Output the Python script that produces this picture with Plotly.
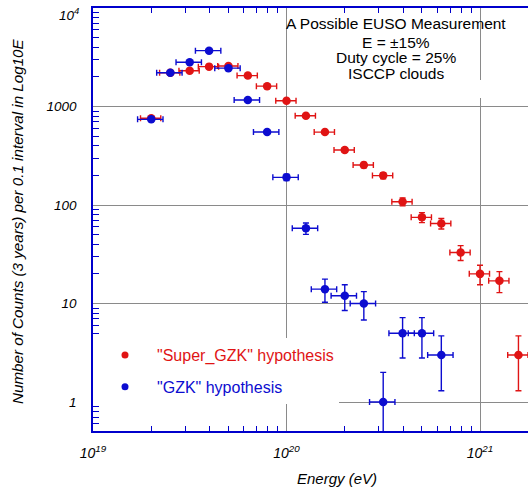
import plotly.graph_objects as go

# ---------------- data ----------------
super_energy = [2.0e19, 2.51e19, 3.16e19, 3.98e19, 5.01e19, 6.31e19, 7.94e19,
                1.0e20, 1.26e20, 1.58e20, 2.0e20, 2.51e20, 3.16e20, 3.98e20,
                5.01e20, 6.31e20, 7.94e20, 1.0e21, 1.26e21, 1.58e21]
super_counts = [760, 2200, 2310, 2540, 2580, 2060, 1610,
                1145, 805, 550, 362, 255, 199, 108,
                75, 65, 33, 20, 17, 3]
super_err = [28, 47, 48, 50, 51, 45, 40,
             34, 28, 23, 19, 16, 14, 10,
             8.7, 8, 5.7, 4.5, 4.1, 1.7]

gzk_energy = [2.0e19, 2.51e19, 3.16e19, 3.98e19, 5.01e19, 6.31e19, 7.94e19,
              1.0e20, 1.26e20, 1.58e20, 2.0e20, 2.51e20, 3.16e20, 3.98e20,
              5.01e20, 6.31e20]
gzk_counts = [741, 2200, 2810, 3690, 2450, 1165, 551,
              191, 58, 14, 12, 10, 1, 5,
              5, 3]
gzk_err = [27, 47, 53, 61, 49, 34, 23,
           14, 7.6, 3.7, 3.5, 3.2, 1, 2.2,
           2.2, 1.7]

super_energy_err_pct = 12
gzk_energy_err_pct = 15

x_tick_vals = [1e19, 1e20, 1e21]
x_tick_text = ["10<sup>19</sup>", "10<sup>20</sup>", "10<sup>21</sup>"]
y_tick_vals = [1, 10, 100, 1000]
y_tick_text = ["1", "10", "100", "1000"]
y_top_label = "10<sup>4</sup>"

info_lines = ["A Possible EUSO Measurement", "E = \u00b115%", "Duty cycle = 25%", "ISCCP clouds"]

# ---------------- style ----------------
RED = "#e01414"
BLUE = "#0c0cd0"
AXIS = "#0000cc"
GRID = "#8a8a8a"
FONT = "Liberation Sans, Arial, sans-serif"

fig = go.Figure()

fig.add_trace(go.Scatter(
    x=super_energy, y=super_counts, mode="markers",
    marker=dict(color=RED, size=8.5),
    error_y=dict(type="data", array=super_err, color=RED, thickness=1.4, width=3),
    error_x=dict(type="percent", value=super_energy_err_pct, color=RED, thickness=1.4, width=3),
    showlegend=False,
))
fig.add_trace(go.Scatter(
    x=gzk_energy, y=gzk_counts, mode="markers",
    marker=dict(color=BLUE, size=8.5),
    error_y=dict(type="data", array=gzk_err, color=BLUE, thickness=1.4, width=3),
    error_x=dict(type="percent", value=gzk_energy_err_pct, color=BLUE, thickness=1.4, width=3),
    showlegend=False,
))
# legend entries
fig.add_trace(go.Scatter(
    x=[None], y=[None], mode="markers", marker=dict(color=RED, size=7),
    name="<span style='color:%s'>\"Super_GZK\" hypothesis</span>" % RED,
    legendgroup="a",
))
fig.add_trace(go.Scatter(
    x=[None], y=[None], mode="markers", marker=dict(color=BLUE, size=7),
    name="<span style='color:%s'>\"GZK\" hypothesis</span>" % BLUE,
    legendgroup="b",
))

minor_x = [m * 10.0 ** e for e in (19, 20, 21) for m in range(2, 10)]
minor_y = [m / 10 for m in range(5, 10)] + [m * 10.0 ** e for e in (0, 1, 2, 3) for m in range(2, 10)]

fig.update_xaxes(
    type="log", range=[19, 21.248],
    showline=True, linecolor=AXIS, linewidth=1.5, mirror="ticks",
    showgrid=True, gridcolor=GRID, gridwidth=1,
    tickvals=x_tick_vals, ticktext=x_tick_text,
    ticks="inside", ticklen=0, tickcolor=AXIS,
    ticklabelstandoff=8,
    tickfont=dict(family=FONT, size=14, color="black", style="italic"),
    minor=dict(tickvals=minor_x, ticks="inside", ticklen=5, tickcolor=AXIS, showgrid=False),
    zeroline=False,
)
fig.update_yaxes(
    type="log", range=[-0.294, 4],
    showline=True, linecolor=AXIS, linewidth=1.5,
    showgrid=True, gridcolor=GRID, gridwidth=1,
    tickvals=y_tick_vals, ticktext=y_tick_text,
    ticks="inside", ticklen=0, tickcolor=AXIS,
    ticklabelstandoff=12,
    tickfont=dict(family=FONT, size=13.5, color="black", style="italic"),
    minor=dict(tickvals=minor_y, ticks="inside", ticklen=6, tickcolor=AXIS, showgrid=False),
    zeroline=False,
)

annotations = []
ys = [0.9645, 0.9196, 0.8818, 0.844]
for txt, yy in zip(info_lines, ys):
    annotations.append(dict(
        text=txt, xref="paper", yref="paper", x=0.6966, y=yy,
        xanchor="center", yanchor="middle", showarrow=False,
        font=dict(family=FONT, size=15.5, color="black"),
    ))
annotations.append(dict(
    text=y_top_label, xref="paper", yref="paper", x=(81 - 93) / 435, y=(431 - 14) / 423,
    xanchor="right", yanchor="middle", showarrow=False,
    font=dict(family=FONT, size=13.5, color="black", style="italic"),
))
annotations.append(dict(
    text="Energy (eV)", xref="paper", yref="paper", x=(337 - 93) / 435, y=(431 - 478) / 423,
    xanchor="center", yanchor="middle", showarrow=False,
    font=dict(family=FONT, size=15, color="black", style="italic"),
))
annotations.append(dict(
    text="Number of Counts (3 years) per 0.1 interval in Log10E",
    xref="paper", yref="paper", x=(18 - 93) / 435, y=(431 - 221) / 423,
    xanchor="center", yanchor="middle", textangle=-90, showarrow=False,
    font=dict(family=FONT, size=15.2, color="black", style="italic"),
))

fig.update_layout(
    width=528, height=490,
    margin=dict(l=93, r=0, t=8, b=59),
    paper_bgcolor="white", plot_bgcolor="white",
    font=dict(family=FONT),
    annotations=annotations,
    showlegend=True,
    legend=dict(
        x=0, y=(431 - 338) / 423, xanchor="left", yanchor="top",
        bgcolor="white", borderwidth=0, itemwidth=54,
        font=dict(family=FONT, size=16),
        traceorder="grouped", tracegroupgap=8,
    ),
    shapes=[dict(type="rect", xref="paper", yref="paper",
                 x0=(300 - 93) / 435, x1=(490 - 93) / 435,
                 y0=(431 - 98) / 423, y1=(431 - 80) / 423,
                 fillcolor="white", line=dict(width=0), layer="above")],
)

fig.write_html("out.html", config={"displayModeBar": False},
               post_script="document.body.style.margin='0';")
